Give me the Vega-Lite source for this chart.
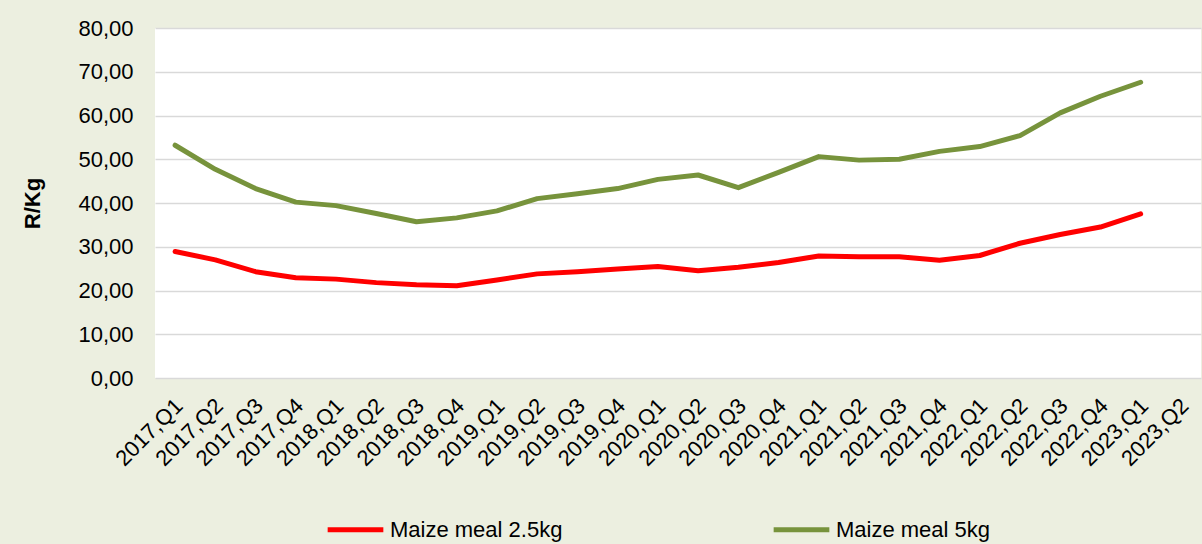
{
  "$schema": "https://vega.github.io/schema/vega-lite/v6.json",
  "width": 1046,
  "height": 350,
  "autosize": {"type": "none"},
  "padding": {"left": 155, "top": 28, "right": 1, "bottom": 166},
  "background": "#ECEFE0",
  "config": {
    "font": "Liberation Sans",
    "view": {"fill": "white", "stroke": null}
  },
  "data": {
    "values": [
      {"q": "2017,Q1", "s": "Maize meal 2.5kg", "v": 28.9},
      {"q": "2017,Q2", "s": "Maize meal 2.5kg", "v": 27.0},
      {"q": "2017,Q3", "s": "Maize meal 2.5kg", "v": 24.3},
      {"q": "2017,Q4", "s": "Maize meal 2.5kg", "v": 22.9},
      {"q": "2018,Q1", "s": "Maize meal 2.5kg", "v": 22.6},
      {"q": "2018,Q2", "s": "Maize meal 2.5kg", "v": 21.8},
      {"q": "2018,Q3", "s": "Maize meal 2.5kg", "v": 21.3},
      {"q": "2018,Q4", "s": "Maize meal 2.5kg", "v": 21.1},
      {"q": "2019,Q1", "s": "Maize meal 2.5kg", "v": 22.4},
      {"q": "2019,Q2", "s": "Maize meal 2.5kg", "v": 23.8},
      {"q": "2019,Q3", "s": "Maize meal 2.5kg", "v": 24.3},
      {"q": "2019,Q4", "s": "Maize meal 2.5kg", "v": 24.9},
      {"q": "2020,Q1", "s": "Maize meal 2.5kg", "v": 25.5},
      {"q": "2020,Q2", "s": "Maize meal 2.5kg", "v": 24.5},
      {"q": "2020,Q3", "s": "Maize meal 2.5kg", "v": 25.3},
      {"q": "2020,Q4", "s": "Maize meal 2.5kg", "v": 26.4},
      {"q": "2021,Q1", "s": "Maize meal 2.5kg", "v": 27.9},
      {"q": "2021,Q2", "s": "Maize meal 2.5kg", "v": 27.7},
      {"q": "2021,Q3", "s": "Maize meal 2.5kg", "v": 27.7},
      {"q": "2021,Q4", "s": "Maize meal 2.5kg", "v": 26.9},
      {"q": "2022,Q1", "s": "Maize meal 2.5kg", "v": 28.0},
      {"q": "2022,Q2", "s": "Maize meal 2.5kg", "v": 30.8},
      {"q": "2022,Q3", "s": "Maize meal 2.5kg", "v": 32.8},
      {"q": "2022,Q4", "s": "Maize meal 2.5kg", "v": 34.5},
      {"q": "2023,Q1", "s": "Maize meal 2.5kg", "v": 37.5},
      {"q": "2017,Q1", "s": "Maize meal 5kg", "v": 53.2},
      {"q": "2017,Q2", "s": "Maize meal 5kg", "v": 47.7},
      {"q": "2017,Q3", "s": "Maize meal 5kg", "v": 43.3},
      {"q": "2017,Q4", "s": "Maize meal 5kg", "v": 40.2},
      {"q": "2018,Q1", "s": "Maize meal 5kg", "v": 39.4},
      {"q": "2018,Q2", "s": "Maize meal 5kg", "v": 37.6},
      {"q": "2018,Q3", "s": "Maize meal 5kg", "v": 35.7},
      {"q": "2018,Q4", "s": "Maize meal 5kg", "v": 36.6},
      {"q": "2019,Q1", "s": "Maize meal 5kg", "v": 38.2},
      {"q": "2019,Q2", "s": "Maize meal 5kg", "v": 41.0},
      {"q": "2019,Q3", "s": "Maize meal 5kg", "v": 42.1},
      {"q": "2019,Q4", "s": "Maize meal 5kg", "v": 43.3},
      {"q": "2020,Q1", "s": "Maize meal 5kg", "v": 45.4},
      {"q": "2020,Q2", "s": "Maize meal 5kg", "v": 46.4},
      {"q": "2020,Q3", "s": "Maize meal 5kg", "v": 43.5},
      {"q": "2020,Q4", "s": "Maize meal 5kg", "v": 47.0},
      {"q": "2021,Q1", "s": "Maize meal 5kg", "v": 50.6},
      {"q": "2021,Q2", "s": "Maize meal 5kg", "v": 49.8},
      {"q": "2021,Q3", "s": "Maize meal 5kg", "v": 50.0},
      {"q": "2021,Q4", "s": "Maize meal 5kg", "v": 51.8},
      {"q": "2022,Q1", "s": "Maize meal 5kg", "v": 52.9},
      {"q": "2022,Q2", "s": "Maize meal 5kg", "v": 55.4},
      {"q": "2022,Q3", "s": "Maize meal 5kg", "v": 60.6},
      {"q": "2022,Q4", "s": "Maize meal 5kg", "v": 64.4},
      {"q": "2023,Q1", "s": "Maize meal 5kg", "v": 67.6}
    ]
  },
  "mark": {"type": "line", "strokeWidth": 5, "strokeCap": "round", "strokeJoin": "round"},
  "encoding": {
    "x": {
      "field": "q",
      "type": "ordinal",
      "scale": {
        "type": "band",
        "paddingInner": 0,
        "paddingOuter": 0,
        "domain": ["2017,Q1","2017,Q2","2017,Q3","2017,Q4","2018,Q1","2018,Q2","2018,Q3","2018,Q4","2019,Q1","2019,Q2","2019,Q3","2019,Q4","2020,Q1","2020,Q2","2020,Q3","2020,Q4","2021,Q1","2021,Q2","2021,Q3","2021,Q4","2022,Q1","2022,Q2","2022,Q3","2022,Q4","2023,Q1","2023,Q2"]
      },
      "axis": {
        "title": null,
        "labelAngle": -45,
        "labelAlign": "right",
        "labelBaseline": "middle",
        "labelFontSize": 22,
        "labelColor": "#000000",
        "labelPadding": 24,
        "labelOffset": 4,
        "ticks": false,
        "domain": false,
        "grid": false,
        "labelOverlap": false
      }
    },
    "y": {
      "field": "v",
      "type": "quantitative",
      "scale": {"domain": [0, 80]},
      "axis": {
        "title": "R/Kg",
        "titleFontSize": 22,
        "titleFontWeight": "bold",
        "titleColor": "#000000",
        "titlePadding": 33,
        "values": [0, 10, 20, 30, 40, 50, 60, 70, 80],
        "labelExpr": "replace(format(datum.value, '.2f'), '.', ',')",
        "labelFontSize": 22,
        "labelColor": "#000000",
        "labelPadding": 22,
        "ticks": false,
        "domain": false,
        "grid": true,
        "gridColor": "#D9D9D9",
        "gridWidth": 1.5
      }
    },
    "color": {
      "field": "s",
      "type": "nominal",
      "scale": {"domain": ["Maize meal 2.5kg", "Maize meal 5kg"], "range": ["#FF0000", "#77933C"]},
      "legend": {
        "title": null,
        "orient": "none",
        "legendX": 170,
        "legendY": 471,
        "direction": "horizontal",
        "columns": 2,
        "columnPadding": 200,
        "symbolType": "stroke",
        "symbolSize": 3100,
        "symbolStrokeWidth": 5,
        "labelFontSize": 22,
        "labelColor": "#000000",
        "labelOffset": 4,
        "labelLimit": 300
      }
    }
  }
}
